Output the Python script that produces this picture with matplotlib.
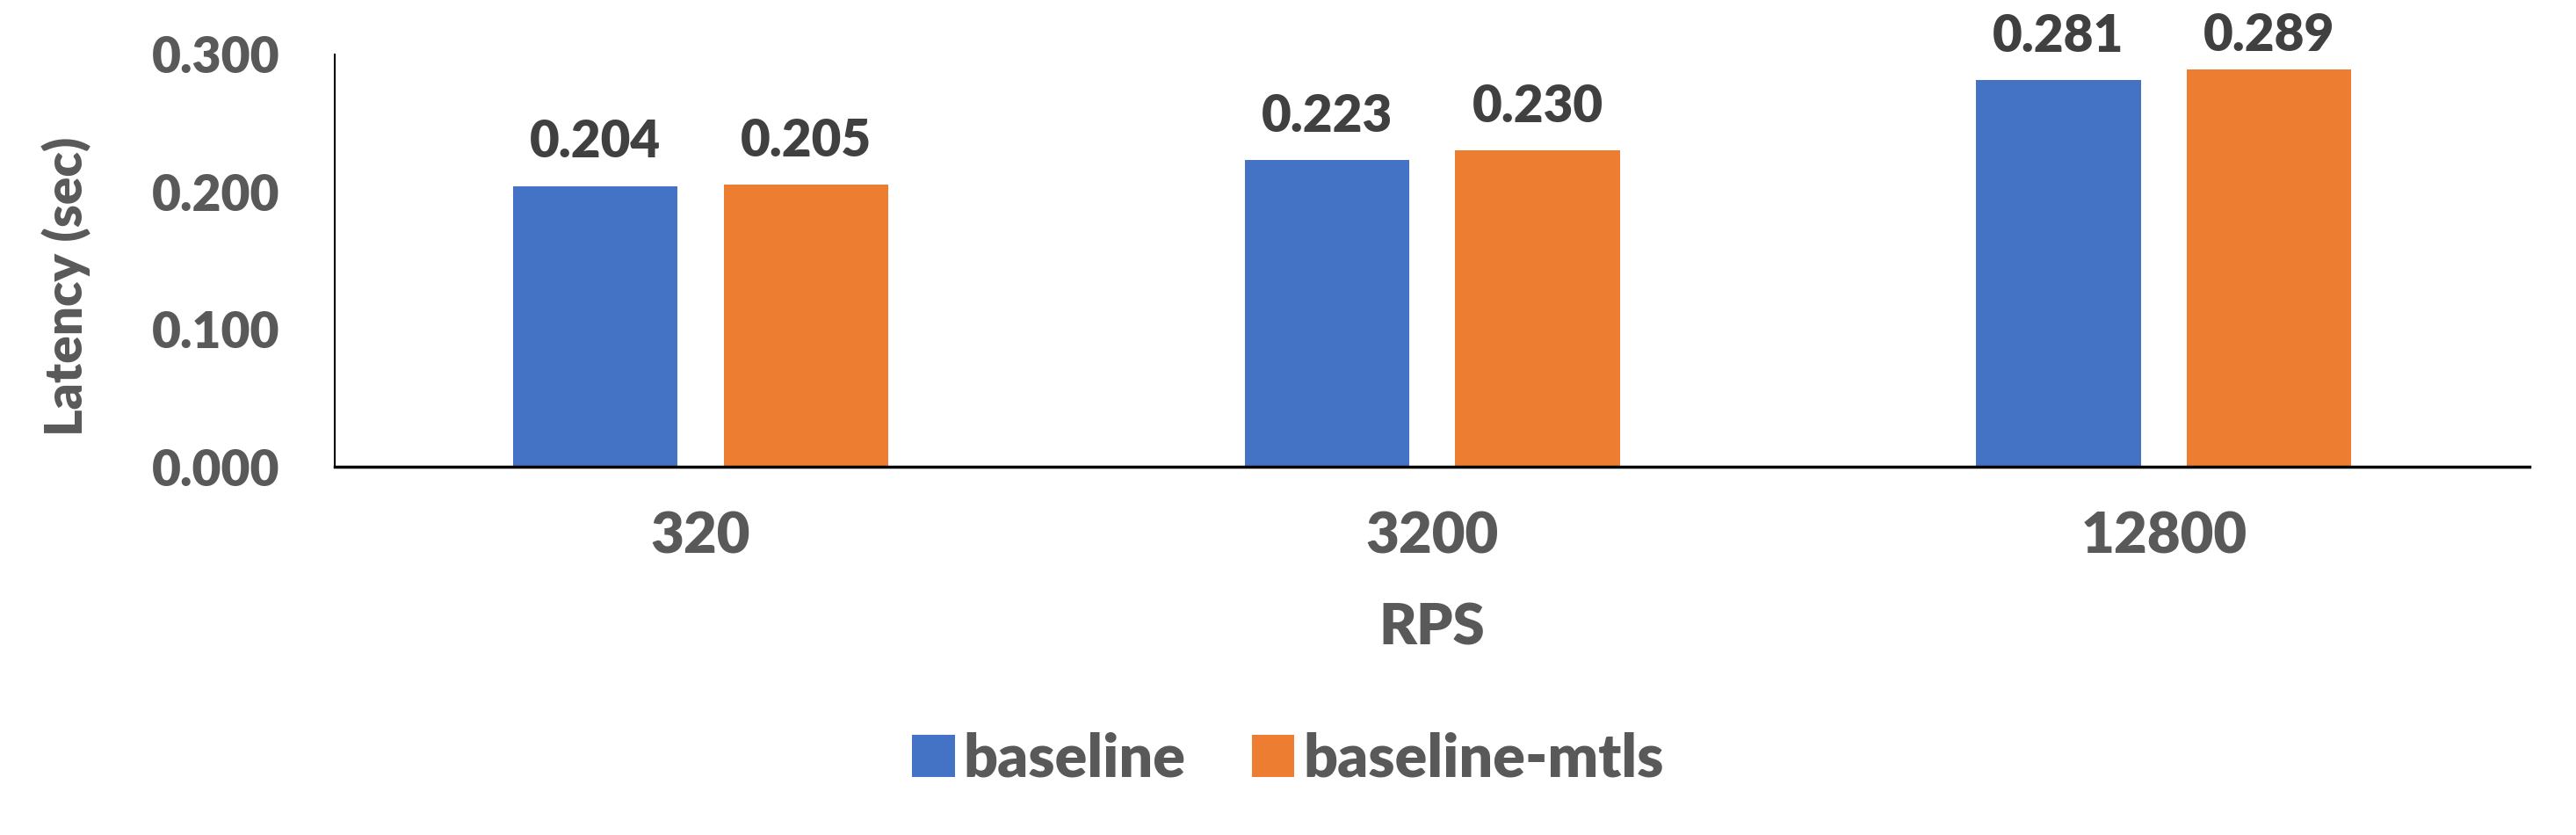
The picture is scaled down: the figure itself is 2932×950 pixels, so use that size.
import matplotlib
matplotlib.use("Agg")
import matplotlib.pyplot as plt
import numpy as np
from matplotlib.patches import Patch

categories = ["320", "3200", "12800"]
series_names = ["baseline", "baseline-mtls"]
baseline = [0.204, 0.223, 0.281]
baseline_mtls = [0.205, 0.230, 0.289]
yticks = [0.000, 0.100, 0.200, 0.300]

colors = ["#4472C4", "#ED7D31"]
gray = "#595959"
dark = "#404040"
plt.rcParams['font.family'] = ['Lato', 'DejaVu Sans']
W = "heavy"
label_cap = 0.2815  # labels are kept inside the chart area (as Excel does)

fig = plt.figure(figsize=(29.32, 9.5), dpi=100)
ax = fig.add_axes([0.130, 0.441, 0.852, 0.494])

x = np.arange(len(categories))
w = 0.225
off = 0.144
for vals, c, sgn in [(baseline, colors[0], -1), (baseline_mtls, colors[1], 1)]:
    bars = ax.bar(x + sgn * off, vals, width=w, color=c, zorder=2)
    for b, v in zip(bars, vals):
        ax.annotate(f"{v:.3f}", (b.get_x() + b.get_width() / 2, min(v, label_cap)),
                    xytext=(0, 17), textcoords="offset points",
                    ha="center", va="bottom", fontsize=42, fontweight=W, color=dark,
                    annotation_clip=False)

ax.set_xlim(-0.5, len(categories) - 0.5)
ax.set_ylim(0, 0.3)
ax.set_yticks(yticks)
ax.set_yticklabels([f"{t:.3f}" for t in yticks])
ax.set_xticks(x)
ax.set_xticklabels(categories)
ax.tick_params(axis="both", length=0, colors=gray)
ax.tick_params(axis="y", labelsize=41, pad=45)
ax.tick_params(axis="x", labelsize=47, pad=36)
for lab in ax.get_xticklabels() + ax.get_yticklabels():
    lab.set_fontweight(W)
ax.set_xlabel("RPS", fontsize=47, fontweight=W, color=gray, labelpad=33)
ax.set_ylabel("Latency (sec)", fontsize=42, fontweight=W, color=gray)
ax.yaxis.set_label_coords(-0.111, 0.438)

for s in ["top", "right"]:
    ax.spines[s].set_visible(False)
ax.spines["left"].set_linewidth(1.5)
ax.spines["bottom"].set_linewidth(2.5)
ax.spines["left"].set_color("black")
ax.spines["bottom"].set_color("black")

handles = [Patch(facecolor=c, label=n) for c, n in zip(colors, series_names)]
fig.legend(handles=handles, loc="center", bbox_to_anchor=(0.5, 0.0905), ncol=2,
           frameon=False, prop={"size": 49, "weight": W}, labelcolor=gray,
           handlelength=0.71, handleheight=0.71, handletextpad=0.15, columnspacing=1.1)

fig.savefig("out.png", dpi=100)
